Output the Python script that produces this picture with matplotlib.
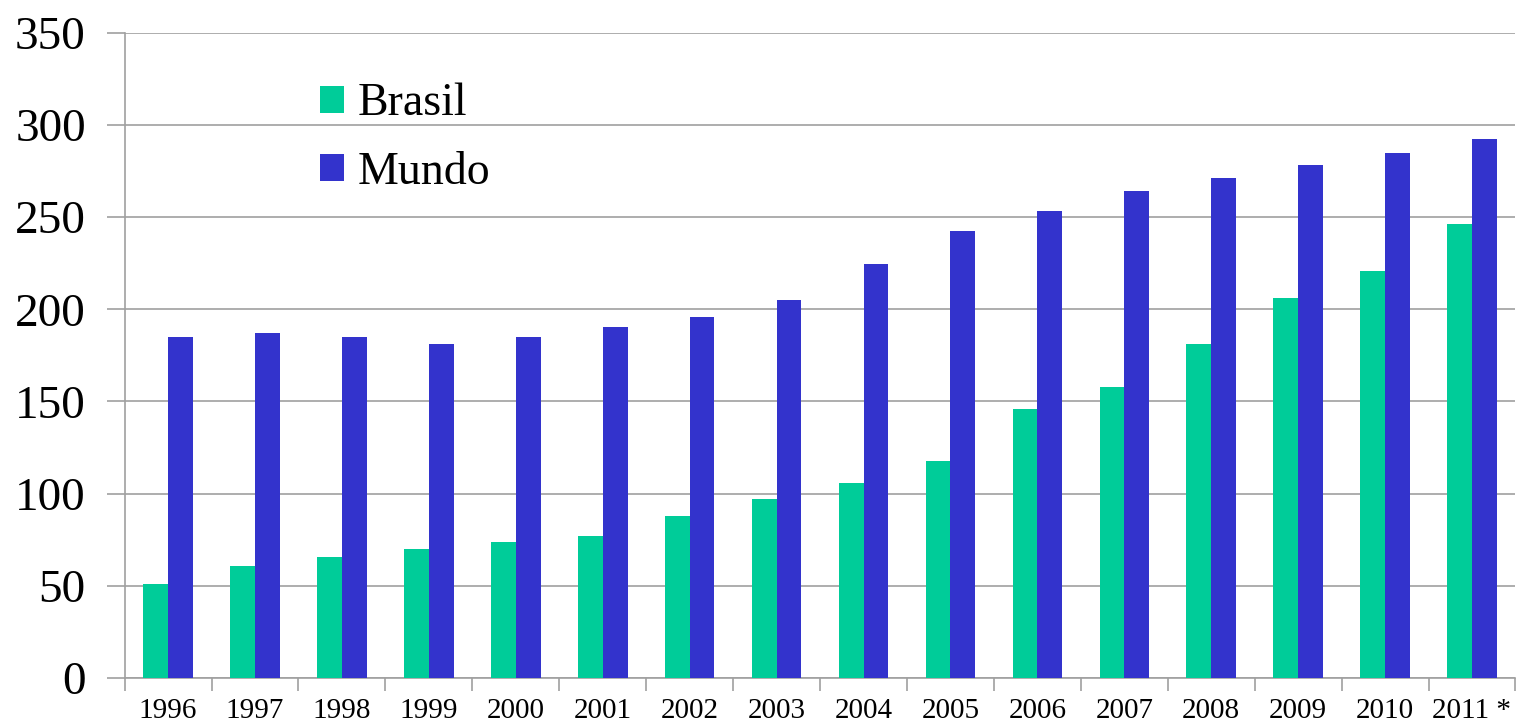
import numpy as np
import matplotlib
matplotlib.use("Agg")
import matplotlib.pyplot as plt

anos = ["1996", "1997", "1998", "1999", "2000", "2001", "2002", "2003",
        "2004", "2005", "2006", "2007", "2008", "2009", "2010", "2011 *"]
brasil = [51, 61, 65.5, 70, 74, 77, 88, 97,
          106, 117.5, 146, 158, 181, 206, 221, 246]
mundo = [185, 187, 185, 181, 185, 190.5, 196, 205,
         224.5, 242.5, 253.5, 264, 271, 278.5, 284.5, 292.5]

plt.rcParams['font.family'] = ['Liberation Serif', 'DejaVu Serif']

fig = plt.figure(figsize=(15.2, 7.26), dpi=100)
ax = fig.add_axes([0.082, 0.066, 0.915, 0.889])

x = np.arange(len(anos))
w = 0.285
grid_c = "#a0a0a0"

ax.bar(x - w/2, brasil, w, color="#00cc99", label="Brasil", zorder=3)
ax.bar(x + w/2, mundo, w, color="#3333cc", label="Mundo", zorder=3)

ax.set_xlim(-0.5, len(anos) - 0.5)
ax.set_ylim(0, 350)
ax.set_yticks(range(0, 351, 50))
ax.yaxis.grid(True, color=grid_c, linewidth=1.2, zorder=0)
ax.set_axisbelow(True)

ax.set_xticks(x)
ax.set_xticklabels(anos, fontsize=21)
ax.set_xticks(np.arange(-0.5, len(anos), 1), minor=True)
ax.tick_params(axis='x', which='major', length=0, pad=14)
ax.tick_params(axis='x', which='minor', length=9, color=grid_c, width=1.2)
ax.tick_params(axis='y', labelsize=34, length=13, color=grid_c, width=1.2, pad=15)

for s in ["top", "right"]:
    ax.spines[s].set_visible(False)
for s in ["left", "bottom"]:
    ax.spines[s].set_color(grid_c)
    ax.spines[s].set_linewidth(1.2)

ax.legend(loc="upper left", bbox_to_anchor=(0.2105, 0.8857), bbox_transform=fig.transFigure,
          frameon=False, fontsize=33, handlelength=0.52, handleheight=0.52,
          handletextpad=0.3, labelspacing=0.57, borderpad=0, borderaxespad=0)

fig.savefig("out.png", dpi=100)
